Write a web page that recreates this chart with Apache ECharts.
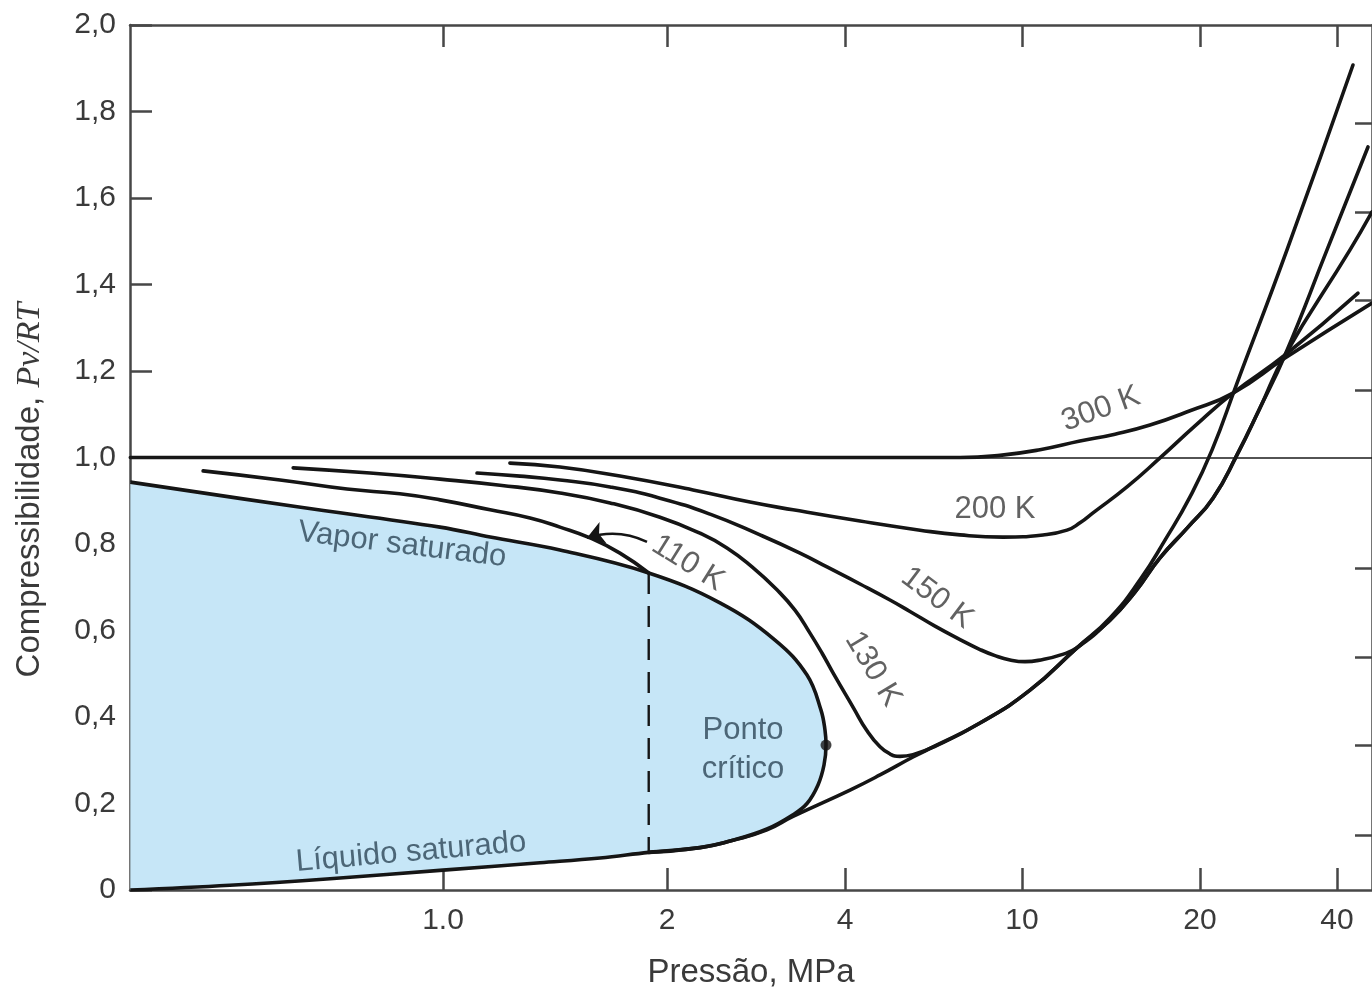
<!DOCTYPE html>
<html>
<head>
<meta charset="utf-8">
<script src="https://cdn.jsdelivr.net/npm/echarts@6/dist/echarts.min.js"></script>
<style>
html,body{margin:0;padding:0;background:#fff;}
#chart{width:1372px;height:995px;}
</style>
</head>
<body>
<div id="chart"></div>
<script>
// ---------- tick values / labels ----------
const xTickValues = [1, 2, 4, 10, 20, 40];            // MPa
const xTickLabels = ['1.0', '2', '4', '10', '20', '40'];
const yTickValues = [0, 0.2, 0.4, 0.6, 0.8, 1.0, 1.2, 1.4, 1.6, 1.8, 2.0];
const yTickLabels = ['0', '0,2', '0,4', '0,6', '0,8', '1,0', '1,2', '1,4', '1,6', '1,8', '2,0'];
const rightTickValues = [0.127, 0.335, 0.539, 0.745, 1.156, 1.364, 1.568, 1.773];

// ---------- data (pressure MPa, compressibility Z) ----------
// saturation dome: liquid side up to the critical point, then back along the vapor side
const sat_P = [0.38, 0.517, 0.705, 1.0, 1.35, 1.626, 1.89, 2.274, 2.586, 2.952, 3.267, 3.45, 3.601, 3.686, 3.715,
               3.70, 3.643, 3.45, 3.046, 2.458, 1.89, 1.436, 1.157, 0.991, 0.637, 0.38];
const sat_Z = [0, 0.011, 0.026, 0.046, 0.063, 0.074, 0.087, 0.098, 0.115, 0.141, 0.174, 0.2, 0.243, 0.289, 0.335,
               0.370, 0.416, 0.497, 0.578, 0.664, 0.733, 0.786, 0.816, 0.839, 0.886, 0.943];
const critical_P = 3.715, critical_Z = 0.335;

// 110 K vapour branch
const t110v_P = [0.476, 0.604, 0.743, 0.875, 0.991, 1.157, 1.309, 1.436, 1.576, 1.729, 1.89];
const t110v_Z = [0.969, 0.948, 0.927, 0.916, 0.902, 0.879, 0.860, 0.839, 0.814, 0.779, 0.733];
// 110 K liquid branch
const t110l_P = [1.89, 2.274, 2.586, 2.952, 3.267, 4.105, 4.795, 5.688, 6.374, 8.046, 10.316, 12.388, 14.087,
                 15.833, 17.452, 19.237, 21.25, 24.12, 31.06, 43.37];
const t110l_Z = [0.087, 0.098, 0.115, 0.139, 0.170, 0.231, 0.266, 0.3075, 0.333, 0.386, 0.462, 0.560, 0.629,
                 0.717, 0.809, 0.909, 1.017, 1.172, 1.480, 1.9075];
// 130 K
const t130_P = [0.629, 0.798, 0.991, 1.193, 1.436, 1.677, 1.957, 2.274, 2.526, 2.785, 3.069, 3.292, 3.49, 3.657,
                3.818, 4.169, 4.483, 4.795, 5.049, 5.318, 5.688, 6.374, 8.046, 10.316, 12.388, 14.087, 15.527,
                17.116, 19.088, 21.36, 24.12, 27.09, 30.75, 38.03, 46.79];
const t130_Z = [0.976, 0.964, 0.950, 0.936, 0.918, 0.895, 0.862, 0.825, 0.791, 0.747, 0.694, 0.647, 0.594, 0.548,
                0.502, 0.423, 0.368, 0.331, 0.3145, 0.309, 0.313, 0.332, 0.386, 0.462, 0.560, 0.624, 0.689,
                0.768, 0.839, 0.906, 1.006, 1.1145, 1.237, 1.480, 1.718];
// 150 K
const t150_P = [1.111, 1.269, 1.436, 1.677, 1.957, 2.365, 2.873, 3.357, 3.729, 4.323, 5.049, 5.60, 6.374, 7.255,
                8.046, 8.696, 9.398, 10.117, 10.852, 11.595, 12.388, 14.087, 15.527, 17.116, 19.088, 21.36, 24.12,
                27.09, 30.75, 42.72, 47.75];
const t150_Z = [0.964, 0.957, 0.948, 0.932, 0.906, 0.869, 0.821, 0.779, 0.747, 0.7075, 0.6705, 0.644, 0.610, 0.579,
                0.556, 0.542, 0.532, 0.528, 0.533, 0.543, 0.560, 0.624, 0.689, 0.768, 0.839, 0.906, 1.006,
                1.1145, 1.237, 1.480, 1.568];
// 200 K
const t200_P = [1.230, 1.436, 1.729, 2.213, 2.763, 3.267, 4.323, 5.898, 7.255, 9.063, 10.852, 11.915, 12.534,
                13.185, 15.051, 17.116, 19.615, 23.63, 30.75, 44.48];
const t200_Z = [0.987, 0.978, 0.957, 0.925, 0.897, 0.879, 0.853, 0.832, 0.821, 0.816, 0.821, 0.832, 0.849,
                0.872, 0.932, 0.999, 1.073, 1.149, 1.237, 1.380];
// 300 K
const t300_P = [0.38, 5.318, 7.255, 8.924, 10.726, 12.534, 14.364, 16.462, 19.237, 23.63, 30.75, 47.75];
const t300_Z = [1.0, 1.0, 1.0, 1.005, 1.018, 1.038, 1.054, 1.075, 1.108, 1.149, 1.230, 1.357];

// 110 K constant-pressure (dashed) line and arrow
const dash_P = [1.89, 1.89];
const dash_Z = [0.733, 0.087];
const arrow_P = [1.88, 1.561];
const arrow_Z = [0.805, 0.814];

// annotation texts
const annotations = [
  { text: 'Vapor saturado',   P: 0.881, Z: 0.798, rot: -7,  kind: 'region' },
  { text: 'Líquido saturado', P: 0.906, Z: 0.087, rot: 5,   kind: 'region' },
  { text: 'Ponto\ncrítico',   P: 2.689, Z: 0.324, rot: 0,   kind: 'region' },
  { text: '110 K',            P: 2.17,  Z: 0.756, rot: -32, kind: 'iso' },
  { text: '130 K',            P: 4.624, Z: 0.511, rot: -59, kind: 'iso' },
  { text: '150 K',            P: 6.44,  Z: 0.675, rot: -37, kind: 'iso' },
  { text: '200 K',            P: 8.696, Z: 0.879, rot: 0,   kind: 'iso' },
  { text: '300 K',            P: 13.60, Z: 1.112, rot: 20,  kind: 'iso' }
];

// ---------- non-uniform logarithmic pressure scale of the original drawing ----------
const xTickPos = [313, 537, 715, 892, 1070, 1207];   // axis position of each labelled pressure
const X_MAX = 1242;
function pos(p) {
  let i = 0;
  if (p >= xTickValues[xTickValues.length - 1]) i = xTickValues.length - 2;
  else if (p > xTickValues[0]) { while (p > xTickValues[i + 1]) i++; }
  const l0 = Math.log(xTickValues[i]), l1 = Math.log(xTickValues[i + 1]);
  return xTickPos[i] + (Math.log(p) - l0) / (l1 - l0) * (xTickPos[i + 1] - xTickPos[i]);
}
function zip(P, Z) { return P.map((p, i) => [pos(p), Z[i]]); }

const AX = '#474747';
const INK = '#151515';
const FONT = "'Liberation Sans', Arial, Helvetica, sans-serif";

function isoLine(name, P, Z, extra) {
  return Object.assign({
    name: name, type: 'line', data: zip(P, Z), showSymbol: false, symbol: 'none',
    smooth: 0.5,
    lineStyle: { color: INK, width: 3.6, cap: 'round', join: 'round' }, silent: true, z: 4
  }, extra || {});
}

const chart = echarts.init(document.getElementById('chart'));
const tickPositions = xTickValues.map(pos);

chart.setOption({
  animation: false,
  backgroundColor: '#ffffff',
  grid: { left: 130, right: 0, top: 25, bottom: 105 },
  xAxis: [
    {
      type: 'value', min: 0, max: X_MAX, position: 'bottom',
      axisLine: { show: true, onZero: false, lineStyle: { color: AX, width: 2.5 } },
      axisTick: { show: true, inside: true, length: 22, customValues: tickPositions, lineStyle: { color: AX, width: 2.5 } },
      axisLabel: {
        show: true, customValues: tickPositions, margin: 16,
        color: '#3a3a3a', fontSize: 30, fontFamily: FONT,
        formatter: function (v) {
          let best = 0;
          tickPositions.forEach((t, i) => { if (Math.abs(t - v) < Math.abs(tickPositions[best] - v)) best = i; });
          return xTickLabels[best];
        }
      },
      splitLine: { show: false },
      name: 'Pressão, MPa', nameLocation: 'middle', nameGap: 66,
      nameTextStyle: { color: '#3a3a3a', fontSize: 33, fontFamily: FONT }
    },
    {
      type: 'value', min: 0, max: X_MAX, position: 'top',
      axisLine: { show: true, onZero: false, lineStyle: { color: AX, width: 2.5 } },
      axisTick: { show: true, inside: true, length: 22, customValues: tickPositions, lineStyle: { color: AX, width: 2.5 } },
      axisLabel: { show: false }, splitLine: { show: false }
    }
  ],
  yAxis: [
    {
      type: 'value', min: 0, max: 2, interval: 0.2, position: 'left',
      axisLine: { show: true, onZero: false, lineStyle: { color: AX, width: 2.5 } },
      axisTick: { show: true, inside: true, length: 22, lineStyle: { color: AX, width: 2.5 } },
      axisLabel: {
        show: true, margin: 14, color: '#3a3a3a', fontSize: 30, fontFamily: FONT,
        formatter: function (v) { return yTickLabels[Math.round(v / 0.2)]; }
      },
      splitLine: { show: false }
    },
    {
      type: 'value', min: 0, max: 2, position: 'right',
      axisLine: { show: true, onZero: false, lineStyle: { color: AX, width: 2.5 } },
      axisTick: { show: true, inside: true, length: 17, customValues: rightTickValues, lineStyle: { color: AX, width: 2.5 } },
      axisLabel: { show: false }, splitLine: { show: false }
    }
  ],
  graphic: [
    {
      type: 'text', x: 30, y: 490, rotation: Math.PI / 2, silent: true,
      style: {
        text: '{a|Compressibilidade, }{b|Pv/RT}',
        align: 'center', verticalAlign: 'middle',
        rich: {
          a: { fontSize: 33, fontFamily: FONT, fill: '#3a3a3a' },
          b: { fontSize: 34, fontFamily: "'Liberation Serif', 'Times New Roman', serif", fontStyle: 'italic', fill: '#3a3a3a' }
        }
      }
    }
  ],
  series: [
    {
      name: 'saturação', type: 'line', data: zip(sat_P, sat_Z), showSymbol: false, symbol: 'none',
      smooth: 0.4, lineStyle: { color: INK, width: 3.6, join: 'round' },
      areaStyle: { color: '#c6e6f7', opacity: 1 }, silent: true, z: 2
    },
    isoLine('300 K', t300_P, t300_Z, {
      markLine: {
        silent: true, symbol: ['none', 'none'], label: { show: false },
        lineStyle: { color: '#1a1a1a', width: 1.6, type: 'solid' },
        data: [{ yAxis: 1 }]
      }
    }),
    isoLine('200 K', t200_P, t200_Z),
    isoLine('150 K', t150_P, t150_Z),
    isoLine('130 K', t130_P, t130_Z),
    isoLine('110 K vapor', t110v_P, t110v_Z),
    isoLine('110 K líquido', t110l_P, t110l_Z),
    {
      name: 'pressão 110 K', type: 'line', data: zip(dash_P, dash_Z), showSymbol: false, symbol: 'none',
      lineStyle: { color: INK, width: 2.4, type: [21, 12] }, silent: true, z: 3
    },
    {
      name: 'seta', type: 'lines', coordinateSystem: 'cartesian2d',
      data: [{ coords: zip(arrow_P, arrow_Z) }],
      lineStyle: { color: INK, width: 2.4, curveness: -0.2, opacity: 1 },
      symbol: ['none', 'arrow'], symbolSize: [1, 17], silent: true, z: 5
    },
    {
      name: 'ponto crítico', type: 'scatter', data: [[pos(critical_P), critical_Z]],
      symbolSize: 11, itemStyle: { color: INK }, silent: true, z: 6
    },
    {
      name: 'rótulos', type: 'scatter', symbolSize: 1, itemStyle: { color: 'rgba(0,0,0,0)' }, silent: true, z: 10,
      label: { show: true, position: 'inside', fontFamily: FONT, fontSize: 31, lineHeight: 39, align: 'center', verticalAlign: 'middle' },
      data: annotations.map(a => ({
        value: [pos(a.P), a.Z],
        label: {
          formatter: a.text, rotate: a.rot,
          color: a.kind === 'region' ? '#2d4656' : '#3b3b3b'
        }
      }))
    }
  ]
});
</script>
</body>
</html>
